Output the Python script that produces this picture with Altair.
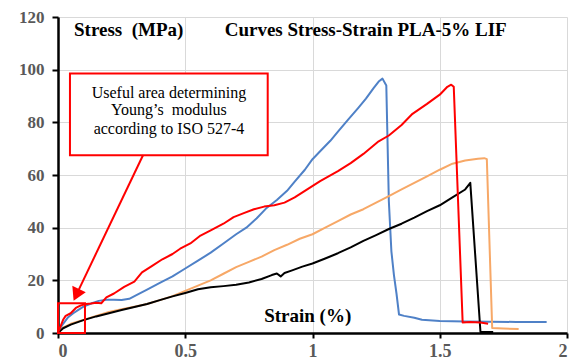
import altair as alt
import pandas as pd

# ---- data ----
blue_strain = [0, 0.01, 0.02, 0.04, 0.06, 0.08, 0.10, 0.13, 0.16, 0.19, 0.22, 0.25, 0.28, 0.31, 0.35,
               0.40, 0.45, 0.50, 0.55, 0.60, 0.65, 0.70, 0.74, 0.78, 0.82, 0.86, 0.90, 0.93, 0.97,
               1.00, 1.03, 1.07, 1.10, 1.14, 1.18, 1.21, 1.24, 1.26, 1.275, 1.29, 1.30, 1.31, 1.32,
               1.33, 1.34, 1.36, 1.40, 1.43, 1.50, 1.60, 1.70, 1.80, 1.92]
blue_stress = [0, 2, 3.5, 6, 7.5, 8.8, 10, 11.2, 12.2, 12.6, 12.6, 12.5, 13, 14.5, 16.5,
               19, 21.5, 24.5, 27.5, 30.5, 34, 37.5, 40, 43.5, 47.5, 50.5, 54, 57.5, 62,
               66, 69, 73, 76.5, 81, 85.5, 89, 93, 95.5, 96.6, 94, 50, 31, 22,
               15, 7, 6.5, 5.8, 5.0, 4.6, 4.4, 4.3, 4.2, 4.2]

red_strain = [0, 0.01, 0.02, 0.03, 0.05, 0.07, 0.09, 0.11, 0.13, 0.15, 0.17, 0.19, 0.22, 0.26,
              0.30, 0.33, 0.37, 0.41, 0.45, 0.48, 0.52, 0.56, 0.60, 0.65, 0.69, 0.73, 0.77,
              0.81, 0.85, 0.89, 0.93, 0.97, 1.03, 1.10, 1.15, 1.20, 1.26, 1.30, 1.35, 1.39,
              1.45, 1.50, 1.53, 1.545, 1.555, 1.59, 1.62, 1.66, 1.69]
red_stress = [0, 2.5, 5, 6.5, 7.5, 9.5, 10.5, 11, 11.2, 11.5, 11.3, 13.5, 15, 17.5,
              19.5, 23, 25.5, 28, 30, 32, 34, 37, 39, 41.5, 44, 45.5, 47,
              48, 48.5, 49.5, 51.5, 54, 57.7, 61.5, 64.5, 68, 72.8, 75, 79, 83,
              87, 90.5, 93.5, 94.3, 93.5, 4, 4.2, 4, 3.5]

orange_strain = [0, 0.02, 0.05, 0.10, 0.15, 0.20, 0.25, 0.30, 0.35, 0.40, 0.45, 0.50, 0.55,
                 0.60, 0.65, 0.70, 0.75, 0.80, 0.85, 0.90, 0.95, 1.00, 1.05, 1.10, 1.15,
                 1.20, 1.25, 1.30, 1.35, 1.40, 1.45, 1.50, 1.55, 1.60, 1.65, 1.675, 1.685,
                 1.706, 1.75, 1.81]
orange_stress = [0, 2, 3.5, 5, 6.5, 8, 9, 10, 11, 12.5, 14, 16, 18,
                 20, 22.5, 25, 27, 29, 31.5, 33.5, 35.8, 37.5, 40, 42.5, 45,
                 47, 49.5, 52, 54.5, 57, 59.5, 62, 64.3, 65.5, 66.2, 66.4, 66,
                 1.9, 1.7, 1.5]

black_strain = [0, 0.02, 0.05, 0.10, 0.15, 0.20, 0.25, 0.30, 0.35, 0.40, 0.45, 0.50, 0.55,
                0.60, 0.65, 0.70, 0.75, 0.80, 0.84, 0.86, 0.875, 0.89, 0.92, 0.96, 1.00,
                1.05, 1.10, 1.15, 1.20, 1.25, 1.30, 1.35, 1.40, 1.45, 1.50, 1.55, 1.60,
                1.62, 1.66, 1.71]
black_stress = [0, 1.8, 3.2, 4.9, 6.3, 7.5, 8.7, 9.9, 11, 12.5, 13.9, 15.2, 16.6,
                17.4, 17.8, 18.3, 19.2, 20.5, 22, 22.6, 21.5, 22.8, 23.8, 25.2, 26.4,
                28.3, 30.3, 32.5, 35, 37.2, 39.5, 41.5, 43.8, 46.3, 48.5, 51.5, 54.5,
                57, 0.4, 0.4]

series_names = ["blue", "orange", "black", "red"]
series_colors = ["#4F81C7", "#F7A867", "#000000", "#FF0000"]

x_ticks = [0, 0.5, 1, 1.5, 2]
y_ticks = [0, 20, 40, 60, 80, 100, 120]

rows = []
for name, xs, ys in [("blue", blue_strain, blue_stress), ("orange", orange_strain, orange_stress),
                     ("black", black_strain, black_stress), ("red", red_strain, red_stress)]:
    for i, (xv, yv) in enumerate(zip(xs, ys)):
        rows.append({"series": name, "strain": xv, "stress": yv, "idx": i})
df = pd.DataFrame(rows)

FONT = "Liberation Serif"
xscale = alt.Scale(domain=[0, 2], nice=False, zero=False)
yscale = alt.Scale(domain=[0, 120], nice=False)

xaxis = alt.Axis(values=x_ticks, format="~g", title=None, grid=True, gridColor="#d9d9d9",
                 gridWidth=1, domainColor="black", domainWidth=2.5, tickColor="black",
                 tickWidth=2, tickSize=5, labelFont=FONT, labelFontSize=18,
                 labelFontWeight="bold", labelColor="#595959", labelPadding=4)
yaxis = alt.Axis(values=y_ticks, title=None, grid=True, gridColor="#d9d9d9",
                 gridWidth=1, domainColor="black", domainWidth=2.5, tickColor="black",
                 tickWidth=2, tickSize=6, labelFont=FONT, labelFontSize=17,
                 labelFontWeight="bold", labelColor="#595959", labelPadding=8)

lines = alt.Chart(df).mark_line(strokeWidth=2, strokeJoin="round").encode(
    x=alt.X("strain:Q", scale=xscale, axis=xaxis),
    y=alt.Y("stress:Q", scale=yscale, axis=yaxis),
    color=alt.Color("series:N", scale=alt.Scale(domain=series_names, range=series_colors), legend=None),
    order="idx:Q",
)

# annotations
small_box = pd.DataFrame({"x": [0], "x2": [0.106], "y": [0], "y2": [11.3]})
big_box = pd.DataFrame({"x": [0.047], "x2": [0.824], "y": [67.5], "y2": [98.5]})
arrow_line = pd.DataFrame({"x": [0.334], "x2": [0.072], "y": [67.5], "y2": [14.5]})
arrow_head = pd.DataFrame({"x": [0.072], "y": [14.5]})

box_lines = ["Useful area determining", "Young’s\u00a0\u00a0modulus", "according to ISO 527-4"]
box_text = pd.DataFrame({"x": [0.436] * 3, "y": [91.3, 84.5, 77.4], "t": box_lines})

bold_labels = pd.DataFrame({
    "x": [0.063, 0.655, 0.81],
    "y": [115.1, 115.1, 6.4],
    "t": ["Stress\u00a0\u00a0(MPa)", "Curves Stress-Strain PLA-5% LIF", "Strain (%)"],
})

sb = alt.Chart(small_box).mark_rect(fillOpacity=0, stroke="#FF0000", strokeWidth=2).encode(
    x=alt.X("x:Q", scale=xscale), x2="x2", y=alt.Y("y:Q", scale=yscale), y2="y2")
bb = alt.Chart(big_box).mark_rect(fill="white", stroke="#FF0000", strokeWidth=2).encode(
    x=alt.X("x:Q", scale=xscale), x2="x2", y=alt.Y("y:Q", scale=yscale), y2="y2")
al = alt.Chart(arrow_line).mark_rule(color="#FF0000", strokeWidth=2).encode(
    x=alt.X("x:Q", scale=xscale), x2="x2", y=alt.Y("y:Q", scale=yscale), y2="y2")
ah = alt.Chart(arrow_head).mark_point(shape="triangle-up", filled=True, color="#FF0000",
                                      opacity=1, size=220, angle=205).encode(
    x=alt.X("x:Q", scale=xscale), y=alt.Y("y:Q", scale=yscale))
bt = alt.Chart(box_text).mark_text(font=FONT, fontSize=16, color="black", align="center",
                                   baseline="middle").encode(
    x=alt.X("x:Q", scale=xscale), y=alt.Y("y:Q", scale=yscale), text="t:N")
bl = alt.Chart(bold_labels).mark_text(font=FONT, fontSize=19, fontWeight="bold", color="black",
                                      align="left", baseline="middle").encode(
    x=alt.X("x:Q", scale=xscale), y=alt.Y("y:Q", scale=yscale), text="t:N")

chart = alt.layer(lines, sb, bb, al, ah, bt, bl).properties(
    width=509, height=316,
    autosize=alt.AutoSizeParams(type="none"),
    padding={"left": 50, "top": 9, "right": 2, "bottom": 28},
    background="white",
).configure_view(stroke=None)

chart.save("out.html", embed_options={"renderer": "svg", "actions": False})
